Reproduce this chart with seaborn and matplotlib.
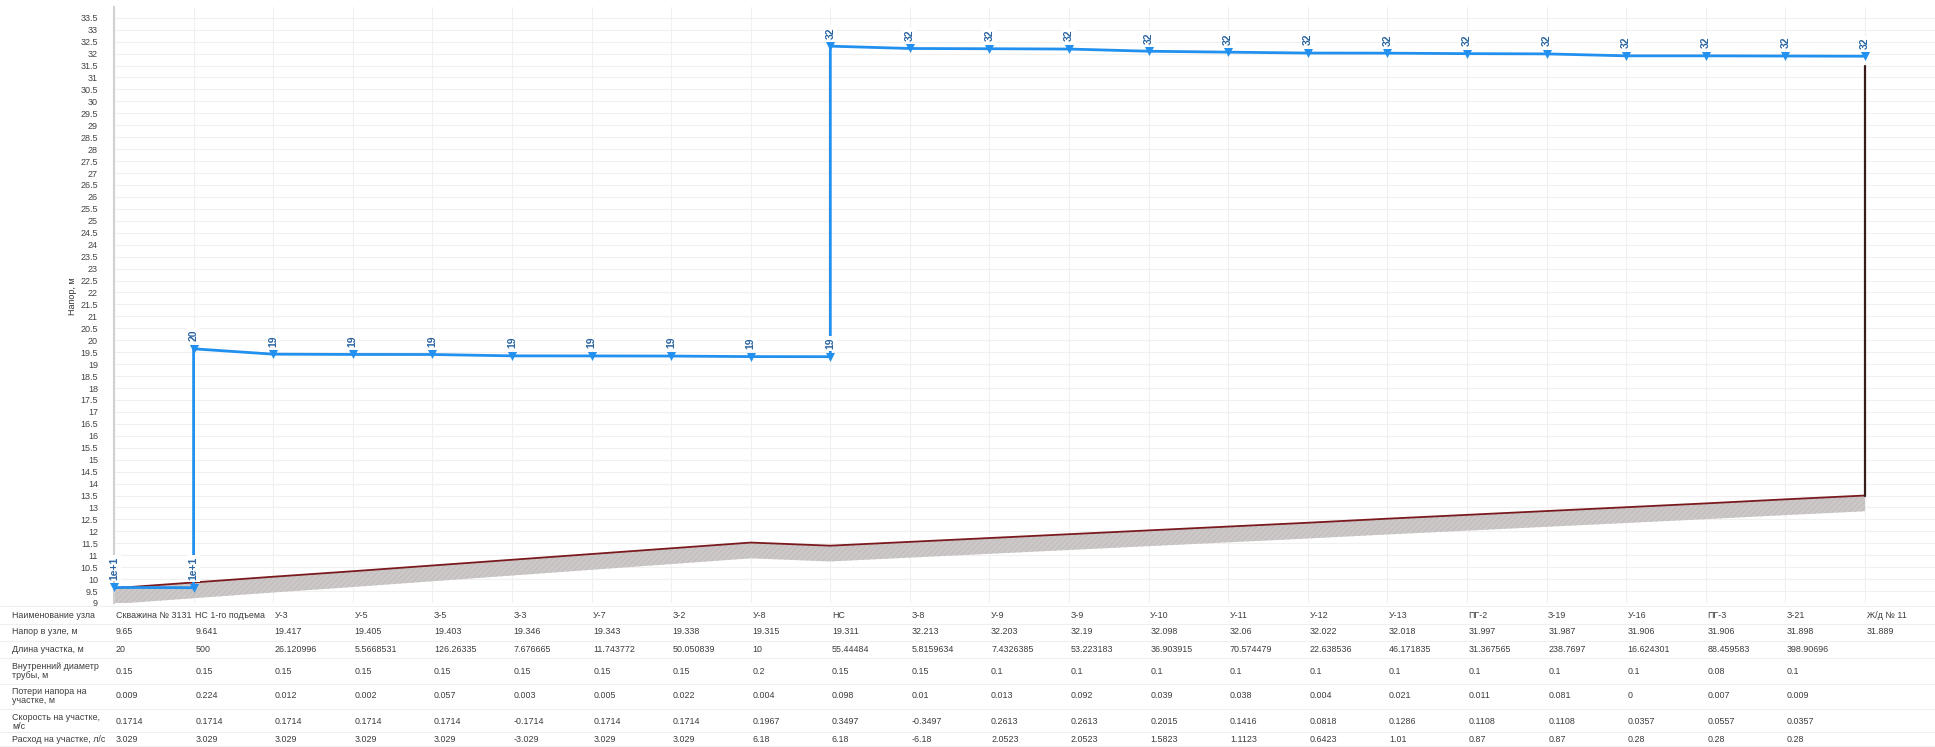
import matplotlib
matplotlib.use("Agg")
import numpy as np
import pandas as pd
import matplotlib.pyplot as plt
import seaborn as sns

# ---- network nodes along the profile ----
node_names = [
    "Скважина № 3131", "НС 1-го подъема", "У-3", "У-5", "З-5", "З-3", "У-7",
    "З-2", "У-8", "НС", "З-8", "У-9", "З-9", "У-10", "У-11", "У-12", "У-13",
    "ПГ-2", "З-19", "У-16", "ПГ-3", "З-21", "Ж/д № 11",
]
# head at node (inlet), m
head = [
    9.65, 9.641, 19.417, 19.405, 19.403, 19.346, 19.343, 19.338, 19.315,
    19.311, 32.213, 32.203, 32.19, 32.098, 32.06, 32.022, 32.018, 31.997,
    31.987, 31.906, 31.906, 31.898, 31.889,
]
# head on the pump outlet (pumping stations), m
pump_outlet_head = {1: 19.641, 9: 32.311}
# ground elevation at node, m
ground = [
    9.62, 9.86, 10.10, 10.33, 10.57, 10.81, 11.05, 11.29, 11.53, 11.40,
    11.56, 11.72, 11.88, 12.04, 12.20, 12.36, 12.53, 12.69, 12.85, 13.01,
    13.17, 13.34, 13.50,
]
ground_layer = 0.66
end_riser_top = 31.5

# ---- section data (section starts at the node) ----
seg_length = [
    20, 500, 26.120996, 5.5668531, 126.26335, 7.676665, 11.743772, 50.050839,
    10, 55.44484, 5.8159634, 7.4326385, 53.223183, 36.903915, 70.574479,
    22.638536, 46.171835, 31.367565, 238.7697, 16.624301, 88.459583, 398.90696,
]
inner_diameter = [
    0.15, 0.15, 0.15, 0.15, 0.15, 0.15, 0.15, 0.15, 0.2, 0.15, 0.15, 0.1,
    0.1, 0.1, 0.1, 0.1, 0.1, 0.1, 0.1, 0.1, 0.08, 0.1,
]
head_loss = [
    0.009, 0.224, 0.012, 0.002, 0.057, 0.003, 0.005, 0.022, 0.004, 0.098,
    0.01, 0.013, 0.092, 0.039, 0.038, 0.004, 0.021, 0.011, 0.081, 0, 0.007,
    0.009,
]
velocity = [
    0.1714, 0.1714, 0.1714, 0.1714, 0.1714, -0.1714, 0.1714, 0.1714, 0.1967,
    0.3497, -0.3497, 0.2613, 0.2613, 0.2015, 0.1416, 0.0818, 0.1286, 0.1108,
    0.1108, 0.0357, 0.0557, 0.0357,
]
flow = [
    3.029, 3.029, 3.029, 3.029, 3.029, -3.029, 3.029, 3.029, 6.18, 6.18,
    -6.18, 2.0523, 2.0523, 1.5823, 1.1123, 0.6423, 1.01, 0.87, 0.87, 0.28,
    0.28, 0.28,
]
row_titles = [
    "Наименование узла", "Напор в узле, м", "Длина участка, м",
    "Внутренний диаметр\nтрубы, м", "Потери напора на\nучастке, м",
    "Скорость на участке,\nм/с", "Расход на участке, л/с",
]
y_ticks = np.arange(9, 33.51, 0.5)

BLUE = "#2190ee"
LABEL_BLUE = "#2b65a0"
GROUND_RED = "#7a1a1e"
TEXT = "#3c3c3c"


def head_label(v):
    s = f"{v:.0e}" if v < 10 else f"{v:.0f}"
    return s.replace("e+0", "e+")


def cell(v):
    return str(v)


sns.set_style("white")
plt.rcParams["font.family"] = ["Liberation Sans", "DejaVu Sans"]
plt.rcParams["hatch.linewidth"] = 0.6

W, H = 1935, 747
fig = plt.figure(figsize=(W / 100, H / 100), dpi=100)

ax_left, ax_right, ax_top, ax_bottom = 114, 1935, 7, 603
step_px = 79.59
ax = fig.add_axes([ax_left / W, 1 - ax_bottom / H,
                   (ax_right - ax_left) / W, (ax_bottom - ax_top) / H])
x_max = (ax_right - ax_left) / step_px
ax.set_xlim(0, x_max)
ax.set_ylim(9, 33.95)

n = len(node_names)
xs = np.arange(n)

# hydraulic grade line, including the jumps at the pumping stations
px, py = [], []
for i, h in enumerate(head):
    px.append(i)
    py.append(h)
    if i in pump_outlet_head:
        px.append(i)
        py.append(pump_outlet_head[i])
path = pd.DataFrame({"x": px, "head": py})

ground_df = pd.DataFrame({"x": xs, "z": ground})

# ground band and ground line
ax.fill_between(xs, np.array(ground) - ground_layer, ground,
                facecolor="#ccc8c8", edgecolor="#c0baba", hatch="//////",
                linewidth=0, zorder=1)
sns.lineplot(data=ground_df, x="x", y="z", color=GROUND_RED, lw=1.3,
             sort=False, estimator=None, ax=ax, zorder=2)

# end riser at the consumer
riser = pd.DataFrame({"x": [n - 1, n - 1], "z": [ground[-1], end_riser_top]})
sns.lineplot(data=riser, x="x", y="z", color="#3a1c1c", lw=1.6,
             sort=False, estimator=None, ax=ax, zorder=2)

sns.lineplot(data=path, x="x", y="head", color=BLUE, lw=2.0, sort=False,
             estimator=None, ax=ax, zorder=3)
sns.scatterplot(data=path, x="x", y="head", marker="v", s=42, color=BLUE,
                linewidth=0, ax=ax, zorder=4, clip_on=False)

for x, y in zip(path["x"], path["head"]):
    ax.annotate(head_label(y), (x, y), xytext=(0, 5.5),
                textcoords="offset points", rotation=90, ha="center",
                va="bottom", fontsize=7.5, fontweight="bold",
                color=LABEL_BLUE, zorder=6, annotation_clip=False,
                bbox=dict(boxstyle="square,pad=0.15", fc="white", ec="none"))

# axes styling
ax.set_xticks(xs)
ax.set_yticks(y_ticks)
ax.set_yticklabels([f"{v:g}" for v in y_ticks])
ax.tick_params(axis="x", length=0, labelbottom=False)
ax.tick_params(axis="y", length=0, pad=11.5, labelsize=6.5, labelcolor="#444444")
ax.grid(True, color="#f0f0f0", lw=0.8, zorder=0)
ax.set_axisbelow(True)
for side in ("top", "right", "bottom"):
    ax.spines[side].set_visible(False)
ax.spines["left"].set_color("#d0d0d0")
ax.spines["left"].set_linewidth(1.5)
ax.set_xlabel("")
ax.set_ylabel("Напор, м", fontsize=6.5, color="#333333")
ax.yaxis.set_label_coords((77 - ax_left) / (ax_right - ax_left),
                          (ax_bottom - 296) / (ax_bottom - ax_top))

# ---- data table under the profile ----
tab_top = 605
tax = fig.add_axes([0, 0, 1, (H - tab_top) / H])
tax.set_xlim(-ax_left / step_px, x_max)
tax.set_ylim(H - tab_top, 0)
tax.axis("off")

row_y = [10, 27, 44, 66, 91, 117, 134]
row_sep = [1, 19, 36, 53, 79, 104, 127, 141]
for y in row_sep:
    tax.axhline(y, color="#efefef", lw=0.8, zorder=0)

title_x = -ax_left / step_px + 12 / step_px
for y, t in zip(row_y, row_titles):
    tax.text(title_x, y, t, fontsize=6.4, color=TEXT, va="center",
             ha="left", linespacing=1.1)

columns = [node_names, head, seg_length, inner_diameter, head_loss,
           velocity, flow]
for y, values in zip(row_y, columns):
    for i, v in enumerate(values):
        tax.text(i + 0.02, y, cell(v), fontsize=6.4, color=TEXT,
                 va="center", ha="left")

fig.savefig("out.png", dpi=100, facecolor="white")
